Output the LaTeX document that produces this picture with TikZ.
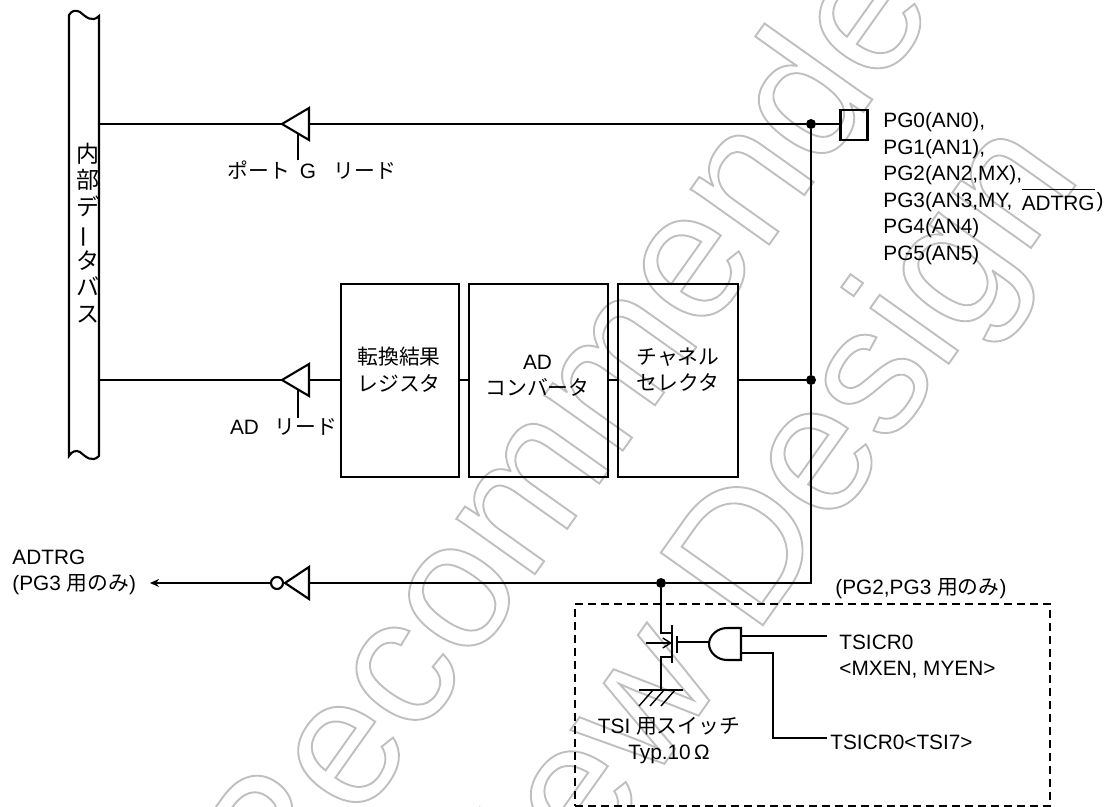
\documentclass[tikz,border=0pt]{standalone}
\usepackage{fontspec}
\setmainfont{Liberation Sans}
\newfontfamily\jpfont{Noto Sans CJK JP}
\usetikzlibrary{arrows.meta,shapes.geometric,calc}
\newcommand{\jp}[1]{{\jpfont #1}}
\tikzset{
  wire/.style={line width=1pt},
  lbl/.style={inner sep=0pt,font=\fontsize{10.4pt}{13.3pt}\selectfont},
  blockbox/.style={draw,line width=1.05pt,minimum height=96.5pt,inner sep=0pt,outer sep=0pt},
  buf/.style={draw,line width=1.05pt,isosceles triangle,shape border rotate=180,isosceles triangle stretches,minimum width=16pt,minimum height=13.5pt,inner sep=0pt,outer sep=0pt,anchor=apex},
  dot/.style={circle,fill=black,inner sep=0pt,minimum size=5pt},
  wmark/.style={inner sep=0pt,font=\fontsize{91pt}{91pt}\selectfont,rotate=54.6},
}
\newcommand{\outl}[1]{\special{pdf:code q 1 Tr 0.95 w 0.75 G}#1\special{pdf:code Q}}
\begin{document}
\begin{tikzpicture}[x=0.5pt,y=-0.5pt]
\useasboundingbox (0,0) rectangle (1108,807);
% watermark
\begin{scope}
\clip (0,0) rectangle (1108,807);
\node[wmark] (wmone) at (586,390) {\outl{Recommended}};
\node[wmark] (wmtwo) at (760,548) {\outl{New Design}};
\end{scope}
% data bus
\draw[line width=1.05pt] (69,456) -- (69,15) .. controls (72,10) and (76,10) .. (80,12) .. controls (86,17) and (92,23) .. (99,16) -- (99,456) .. controls (92,463) and (86,457) .. (80,452) .. controls (76,450) and (72,451) .. (69,456) -- cycle;
\node[lbl,font=\fontsize{11.5pt}{13.35pt}\selectfont\jpfont,align=center] (buslabel) at (87.5,233) {内\\部\\デ\\\rotatebox[origin=c]{90}{ー}\\タ\\バ\\ス};
% junctions
\coordinate (busg) at (99,124);
\coordinate (busad) at (99,380);
\node[dot] (gdot) at (811,124) {};
\node[dot] (addot) at (811,380) {};
\coordinate (vcorner) at (811,583);
\node[dot] (tdot) at (661,583) {};
% port
\node[draw,line width=1.05pt,minimum width=13.5pt,minimum height=15pt,inner sep=0pt,outer sep=0pt] (gport) at (854,125) {};
\node[buf] (gbuf) at (282,124) {};
\draw[wire] (busg) -- (gbuf.apex);
\draw[wire] (gbuf.lower side) -- (gdot) -- (gport.west |- gdot);
\draw[wire] (gdot) -- (addot) -- (vcorner) -- (tdot);
\node[lbl] (glabel) at (312,170) {\jp{ポート}\hspace{0.45em}G\hspace{0.85em}\jp{リード}};
\coordinate (gctl) at (298,134);
\draw[wire] (gctl) -- (gctl |- glabel.north);
\node[lbl,align=left,anchor=north west] (pglabel) at (883,112) {PG0(AN0),\\PG1(AN1),\\PG2(AN2,MX),\\PG3(AN3,MY,\hspace{0.45em}$\overline{\mbox{\raisebox{-1.5pt}[7.5pt]{ADTRG}}}$\hspace{1pt})\\PG4(AN4)\\PG5(AN5)};
% converter row
\node[blockbox,minimum width=59pt] (regbox) at (400,380.5) {};
\node[blockbox,minimum width=69.5pt] (adbox) at (538.5,380.5) {};
\node[blockbox,minimum width=60pt] (selbox) at (678,380.5) {};
\node[lbl,align=center] (reglabel) at (399,369.5) {\jp{転換結果}\\\jp{レジスタ}};
\node[lbl,align=center] (adlabel) at (537.5,376) {AD\\\jp{コンバータ}};
\node[lbl,align=center] (sellabel) at (678,369.5) {\jp{チャネル}\\\jp{セレクタ}};
\node[buf] (adbuf) at (282,380) {};
\draw[wire] (busad) -- (adbuf.apex);
\draw[wire] (adbuf.lower side) -- (regbox.west |- adbuf.lower side);
\draw[wire] (regbox.east |- addot) -- (adbox.west |- addot);
\draw[wire] (adbox.east |- addot) -- (selbox.west |- addot);
\draw[wire] (selbox.east |- addot) -- (addot);
\node[lbl] (adread) at (283.5,427) {AD\hspace{0.75em}\jp{リード}};
\coordinate (adctl) at (298,390);
\draw[wire] (adctl) -- (adctl |- adread.north);
% trigger output
\node[draw,circle,line width=1.05pt,inner sep=0pt,minimum size=6pt] (invbub) at (277,583) {};
\node[buf,minimum height=12pt] (invbuf) at (285,583) {};
\draw[wire] (tdot) -- (invbuf.lower side);
\node[lbl,align=left,anchor=west] (trglabel) at (12,572.5) {ADTRG\\(PG3 \jp{用のみ})};
\coordinate (trgend) at (150,583);
\draw[wire,-{Stealth[length=4.5pt,width=4pt]}] (invbub) -- (trgend);
% switch block
\node[draw,line width=0.9pt,dash pattern=on 4pt off 2.5pt,minimum width=237.5pt,minimum height=101pt,inner sep=0pt] (tsibox) at (812.5,705) {};
\node[lbl,anchor=west] (tsiscope) at (835,589) {(PG2,PG3 \jp{用のみ})};
\coordinate (drain) at (661,633);
\coordinate (chan) at (672,633);
\coordinate (source) at (661,657);
\coordinate (schan) at (672,657);
\coordinate (gnd) at (661,690);
\draw[wire] (tdot) -- (drain) -- (chan);
\draw[wire] (schan) -- (source) -- (gnd);
\draw[wire] (672,625) -- (672,663);
\draw[wire] (677,636) -- (677,653);
\coordinate (arrowstart) at (646,643);
\draw[line width=0.7pt,-{Straight Barb[length=4pt,width=5pt]}] (arrowstart) -- (672,643);
\draw[wire] (639,690) -- (683,690);
\foreach \x in {653,664,675} \draw[line width=0.7pt] (\x,690)--(\x-14,706);
\node[lbl,align=center] (tsilabel) at (669,740.5) {TSI \jp{用スイッチ}\\Typ.10$\,$Ω};
% and gate
\draw[line width=1.05pt] (727,628) -- (741,628) -- (741,660) -- (727,660) .. controls (717,660) and (709,652) .. (709,644) .. controls (709,636) and (717,628) .. (727,628) -- cycle;
\coordinate (andin) at (709,642);
\draw[wire] (677,642) -- (andin);
\coordinate (andone) at (741,636);
\coordinate (andtwo) at (741,653);
\node[lbl,anchor=west] (muxlabel) at (839,642) {TSICR0};
\node[lbl,anchor=west] (muxbits) at (839,670) {<MXEN, MYEN>};
\node[lbl,anchor=west] (tsibit) at (830,742) {TSICR0<TSI7>};
\coordinate (muxend) at (827,636);
\coordinate (bitcorner) at (773,653);
\coordinate (bitend) at (827,738);
\draw[wire] (andone) -- (muxend);
\draw[wire] (andtwo) -- (bitcorner) -- (bitcorner |- bitend) -- (bitend);
\end{tikzpicture}
\end{document}
